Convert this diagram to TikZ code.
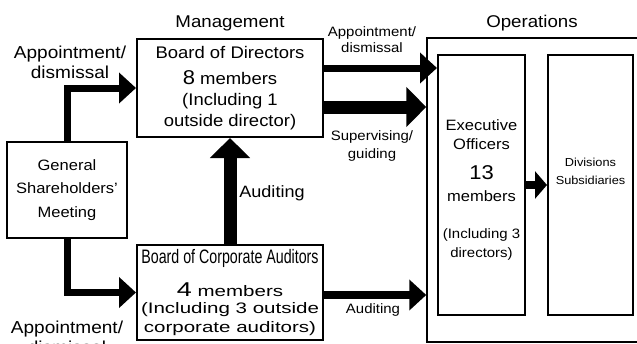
\documentclass[tikz,border=0pt]{standalone}
\usepackage{graphicx}
\usepackage{fontspec}
\setmainfont[FakeStretch=1.1]{Liberation Sans}
\newfontfamily\widesans[FakeStretch=1.35]{Liberation Sans}
\newfontfamily\narrowsans[FakeStretch=0.73]{Liberation Sans}
\usetikzlibrary{arrows.meta}
\tikzset{
    box/.style={
        rectangle,
        draw=black, line width=2pt,
        align=center,
        inner sep=0pt
    },
    txt/.style={align=center, inner sep=0pt, font=\fontsize{17}{20}\selectfont},
    smalltxt/.style={align=center, inner sep=0pt, font=\fontsize{13.6}{16}\selectfont},
    thin arrow/.style={draw, line width=7pt, -{Triangle[length=17pt,width=30pt]}},
    fat arrow/.style={draw, line width=13pt, -{Triangle[length=20pt,width=39pt]}}
}
\newcommand\bignum[1]{{\fontsize{20}{20}\selectfont #1}}
\newcommand\smallsz{\fontsize{13.6}{19}\selectfont}
\newcommand\widesz{\widesans\fontsize{15.2}{19}\selectfont}

\begin{document}
\begin{tikzpicture}[x=1pt, y=-1pt]
    \useasboundingbox (0,0) rectangle (637,343);

    % column headings
    \node[txt] (mgmt) at (230,23) {Management};
    \node[txt] (opshead) at (532,23) {Operations};

    % management side
    \node[box, minimum width=186pt, minimum height=98pt, font=\fontsize{16.8}{21}\selectfont] (bod) at (230,88)
        {Board of Directors\\[5pt] \bignum{8} members\\ (Including 1\\ outside director)};
    \node[box, minimum width=120pt, minimum height=96pt, font=\fontsize{15}{23.5}\selectfont] (gsm) at (67,190)
        {General\\Shareholders'\\Meeting};
    \node[box, minimum width=186pt, minimum height=95pt, font=\fontsize{17}{19}\selectfont] (bca) at (230,292.5)
        {\raisebox{-3pt}{\narrowsans\fontsize{19.5}{19}\selectfont Board of Corporate Auditors}\\[14pt]
         \widesz\bignum{4} members\\[-2pt] \widesz(Including 3 outside\\ \widesz corporate auditors)};

    % operations side
    \node[draw, line width=1.5pt, minimum width=220pt, minimum height=304pt, inner sep=0pt] (ops) at (537,190) {};
    \node[box, minimum width=87pt, minimum height=260pt, font=\fontsize{15}{19}\selectfont] (exec) at (481.5,185) {};
    \node[txt, font=\fontsize{15}{19}\selectfont] (exectxt) at (481.5,190)
        {Executive\\ Officers\\[11pt] \bignum{13}\\[3pt] members\\[18pt] \smallsz(Including 3\\ \smallsz directors)};
    \node[box, minimum width=85pt, minimum height=260pt] (div) at (590.5,185) {};
    \node[txt, font=\fontsize{11.6}{18}\selectfont] (divtxt) at (590.5,171) {Divisions\\Subsidiaries};

    % arrows
    \coordinate (y appt) at (0,68);
    \coordinate (y sup) at (0,107);
    \coordinate (y aud) at (0,295);

    \draw[thin arrow] (gsm.north) |- (bod.west);
    \draw[thin arrow] (gsm.south) |- (bca.west);
    \draw[fat arrow] (bca.north) -- (bod.south);
    \draw[thin arrow] (bod.east |- y appt) -- (exec.west |- y appt);
    \draw[fat arrow] (bod.east |- y sup) -- (ops.west |- y sup);
    \draw[thin arrow, line width=8pt] (bca.east |- y aud) -- (ops.west |- y aud);
    \draw[line width=8pt, -{Triangle[length=12pt,width=27pt]}] (exec.east) -- (div.west);

    % arrow labels
    \node[txt, font=\fontsize{17.3}{20}\selectfont] (appt top) at (70,62) {Appointment/\\dismissal};
    \node[txt, font=\fontsize{17.3}{20}\selectfont] (appt low) at (67,337) {Appointment/\\dismissal};
    \node[txt, font=\fontsize{16.4}{20}\selectfont] (aud up) at (272,193) {Auditing};
    \node[smalltxt] (appt right) at (372,40) {Appointment/\\dismissal};
    \node[smalltxt, font=\fontsize{13.6}{18}\selectfont] (sup) at (372,146) {Supervising/\\guiding};
    \node[smalltxt] (aud right) at (373,310) {Auditing};
\end{tikzpicture}
\end{document}
